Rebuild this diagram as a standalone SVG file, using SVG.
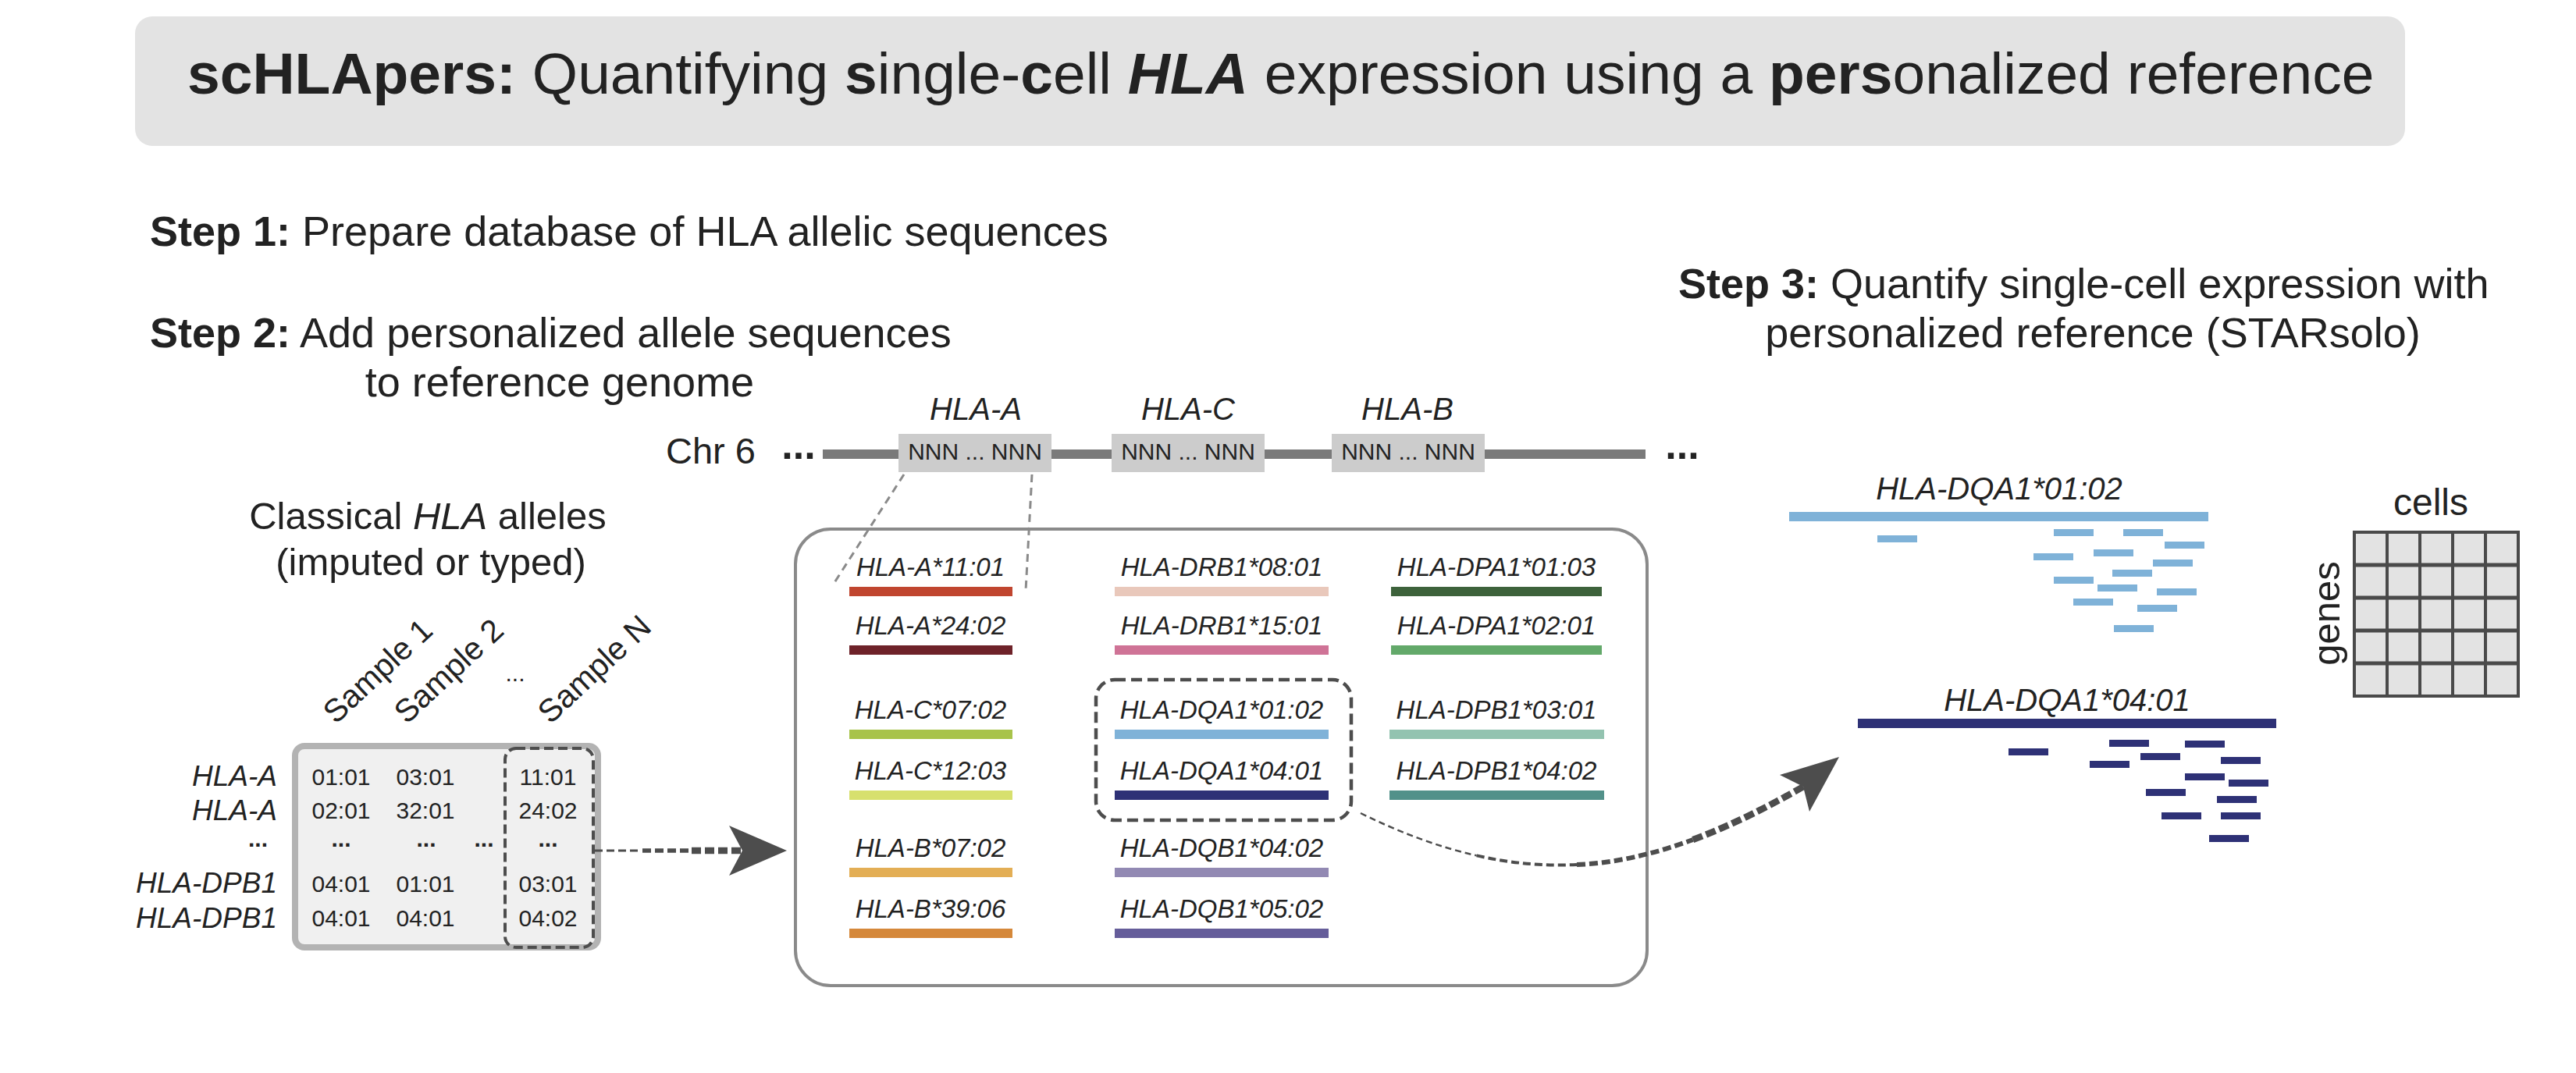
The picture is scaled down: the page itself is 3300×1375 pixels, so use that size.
<svg xmlns="http://www.w3.org/2000/svg" width="3300" height="1375" viewBox="0 0 3300 1375">
<style>
text{font-family:"Liberation Sans",Arial,Helvetica,sans-serif;fill:#222}
.b{font-weight:bold}
.i{font-style:italic}
.step{font-size:54px}
.al{font-size:33px;font-style:italic;text-anchor:middle}
.val{font-size:30px;text-anchor:middle}
.lab{font-size:37px;font-style:italic;text-anchor:end}
.nnn{font-size:30px;text-anchor:middle}
.gene{font-size:40px;font-style:italic;text-anchor:middle}
.smp{font-size:41px}
.dash{fill:none;stroke:#4d4d4d}
.ra{fill:#7fb2d8}
.rb{fill:#2e3176}
</style>
<rect width="3300" height="1375" fill="#fff"/>

<g id="title">
<rect x="173" y="21" width="2908" height="166" rx="22" fill="#e3e3e3"/>
<text x="240" y="120" font-size="75"><tspan class="b">scHLApers:</tspan> Quantifying <tspan class="b">s</tspan>ingle-<tspan class="b">c</tspan>ell <tspan class="b i">HLA</tspan> expression using a <tspan class="b">pers</tspan>onalized reference</text>
</g>

<g id="step1"><text class="step" x="192" y="315"><tspan class="b">Step 1:</tspan> Prepare database of HLA allelic sequences</text></g>
<g id="step2"><text class="step" x="192" y="445"><tspan class="b">Step 2:</tspan> Add personalized allele sequences</text>
<text class="step" x="717" y="508" text-anchor="middle">to reference genome</text></g>
<g id="step3"><text class="step" x="2150" y="382"><tspan class="b">Step 3:</tspan> Quantify single-cell expression with</text>
<text class="step" x="2681" y="445" text-anchor="middle">personalized reference (STARsolo)</text></g>

<g id="alleles-table">
<text x="548" y="678" font-size="49" text-anchor="middle">Classical <tspan class="i">HLA</tspan> alleles</text>
<text x="552" y="737" font-size="49" text-anchor="middle">(imputed or typed)</text>
<text class="smp" x="430" y="929" transform="rotate(-43 430 929)">Sample 1</text>
<text class="smp" x="521" y="929" transform="rotate(-43 521 929)">Sample 2</text>
<text x="660" y="873" font-size="30" text-anchor="middle">...</text>
<text class="smp" x="705" y="929" transform="rotate(-43 705 929)">Sample N</text>
<rect x="378" y="956" width="388" height="258" rx="12" fill="#f0f0f0" stroke="#b3b3b3" stroke-width="8"/>
<rect x="647" y="959" width="113" height="255" rx="14" class="dash" stroke-width="4" stroke-dasharray="12 6" stroke="#505050"/>
<text class="lab" x="355" y="1007">HLA-A</text>
<text class="lab" x="355" y="1051">HLA-A</text>
<text class="b" x="343" y="1085" font-size="30" text-anchor="end">...</text>
<text class="lab" x="355" y="1144">HLA-DPB1</text>
<text class="lab" x="355" y="1189">HLA-DPB1</text>
<text class="val" x="437" y="1006">01:01</text><text class="val" x="545" y="1006">03:01</text><text class="val" x="702" y="1006">11:01</text>
<text class="val" x="437" y="1049">02:01</text><text class="val" x="545" y="1049">32:01</text><text class="val" x="702" y="1049">24:02</text>
<text class="val b" x="437" y="1085">...</text><text class="val b" x="546" y="1085">...</text><text class="val b" x="620" y="1085">...</text><text class="val b" x="702" y="1085">...</text>
<text class="val" x="437" y="1143">04:01</text><text class="val" x="545" y="1143">01:01</text><text class="val" x="702" y="1143">03:01</text>
<text class="val" x="437" y="1187">04:01</text><text class="val" x="545" y="1187">04:01</text><text class="val" x="702" y="1187">04:02</text>
</g>

<g id="chr6">
<text x="853" y="594" font-size="47">Chr 6</text>
<text class="b" x="1023" y="588" font-size="52" text-anchor="middle">...</text>
<rect x="1054" y="576" width="1054" height="12" fill="#7a7a7a"/>
<text class="b" x="2155" y="588" font-size="52" text-anchor="middle">...</text>
<rect x="1151" y="556" width="196" height="49" fill="#cccccc"/>
<rect x="1424" y="556" width="196" height="49" fill="#cccccc"/>
<rect x="1706" y="556" width="196" height="49" fill="#cccccc"/>
<text class="nnn" x="1249" y="589">NNN ... NNN</text>
<text class="nnn" x="1522" y="589">NNN ... NNN</text>
<text class="nnn" x="1804" y="589">NNN ... NNN</text>
<text class="gene" x="1250" y="538" font-size="41">HLA-A</text>
<text class="gene" x="1522" y="538" font-size="41">HLA-C</text>
<text class="gene" x="1803" y="538" font-size="41">HLA-B</text>
</g>

<g id="reference-box">
<rect x="1019" y="678" width="1091" height="585" rx="45" fill="#fff" stroke="#8a8a8a" stroke-width="4"/>
<rect x="1404" y="871" width="327" height="180" rx="24" class="dash" stroke-width="4.5" stroke-dasharray="14 7" stroke="#4d4d4d"/>
<text class="al" x="1192" y="738">HLA-A*11:01</text><rect x="1088" y="752" width="209" height="12" fill="#c0452f"/>
<text class="al" x="1192" y="813">HLA-A*24:02</text><rect x="1088" y="827" width="209" height="12" fill="#6e2229"/>
<text class="al" x="1192" y="921">HLA-C*07:02</text><rect x="1088" y="935" width="209" height="12" fill="#a8c34a"/>
<text class="al" x="1192" y="999">HLA-C*12:03</text><rect x="1088" y="1013" width="209" height="12" fill="#d7e06e"/>
<text class="al" x="1192" y="1098">HLA-B*07:02</text><rect x="1088" y="1112" width="209" height="12" fill="#e3ae55"/>
<text class="al" x="1192" y="1176">HLA-B*39:06</text><rect x="1088" y="1190" width="209" height="12" fill="#d5883a"/>
<text class="al" x="1565" y="738">HLA-DRB1*08:01</text><rect x="1428" y="752" width="274" height="12" fill="#e9c8bb"/>
<text class="al" x="1565" y="813">HLA-DRB1*15:01</text><rect x="1428" y="827" width="274" height="12" fill="#cf7396"/>
<text class="al" x="1565" y="921">HLA-DQA1*01:02</text><rect x="1428" y="935" width="274" height="12" fill="#7fb2d8"/>
<text class="al" x="1565" y="999">HLA-DQA1*04:01</text><rect x="1428" y="1013" width="274" height="12" fill="#2e3176"/>
<text class="al" x="1565" y="1098">HLA-DQB1*04:02</text><rect x="1428" y="1112" width="274" height="12" fill="#9289b3"/>
<text class="al" x="1565" y="1176">HLA-DQB1*05:02</text><rect x="1428" y="1190" width="274" height="12" fill="#655d9a"/>
<text class="al" x="1917" y="738">HLA-DPA1*01:03</text><rect x="1782" y="752" width="270" height="12" fill="#3d623b"/>
<text class="al" x="1917" y="813">HLA-DPA1*02:01</text><rect x="1782" y="827" width="270" height="12" fill="#63a96a"/>
<text class="al" x="1917" y="921">HLA-DPB1*03:01</text><rect x="1780" y="935" width="275" height="12" fill="#93c3b0"/>
<text class="al" x="1917" y="999">HLA-DPB1*04:02</text><rect x="1780" y="1013" width="275" height="12" fill="#52918a"/>
</g>

<g id="quantification">
<text class="gene" x="2561" y="640">HLA-DQA1*01:02</text>
<rect x="2292" y="656" width="537" height="12" fill="#7fb2d8"/>
<rect class="ra" x="2405" y="686" width="51" height="9"/><rect class="ra" x="2631" y="678" width="51" height="9"/><rect class="ra" x="2720" y="678" width="51" height="9"/>
<rect class="ra" x="2773" y="694" width="51" height="9"/><rect class="ra" x="2605" y="709" width="51" height="9"/><rect class="ra" x="2682" y="704" width="51" height="9"/>
<rect class="ra" x="2758" y="717" width="51" height="9"/><rect class="ra" x="2706" y="730" width="51" height="9"/><rect class="ra" x="2631" y="739" width="51" height="9"/>
<rect class="ra" x="2687" y="749" width="51" height="9"/><rect class="ra" x="2763" y="754" width="51" height="9"/><rect class="ra" x="2656" y="767" width="51" height="9"/>
<rect class="ra" x="2738" y="775" width="51" height="9"/><rect class="ra" x="2708" y="801" width="51" height="9"/>
<text class="gene" x="2648" y="911">HLA-DQA1*04:01</text>
<rect x="2380" y="921" width="536" height="12" fill="#2e3176"/>
<rect class="rb" x="2573" y="959" width="51" height="9"/><rect class="rb" x="2702" y="948" width="51" height="9"/><rect class="rb" x="2799" y="949" width="51" height="9"/>
<rect class="rb" x="2742" y="965" width="51" height="9"/><rect class="rb" x="2677" y="975" width="51" height="9"/><rect class="rb" x="2845" y="970" width="51" height="9"/>
<rect class="rb" x="2799" y="991" width="51" height="9"/><rect class="rb" x="2855" y="999" width="51" height="9"/><rect class="rb" x="2749" y="1011" width="51" height="9"/>
<rect class="rb" x="2840" y="1020" width="51" height="9"/><rect class="rb" x="2769" y="1041" width="51" height="9"/><rect class="rb" x="2845" y="1041" width="51" height="9"/>
<rect class="rb" x="2830" y="1070" width="51" height="9"/>
</g>

<g id="matrix">
<text x="3114" y="660" font-size="48" text-anchor="middle">cells</text>
<text x="2997" y="786" font-size="49" text-anchor="middle" transform="rotate(-90 2997 786)">genes</text>
<rect x="3016" y="682" width="210" height="210" fill="#e3e3e3" stroke="#4a4a4a" stroke-width="4"/>
<path d="M3058,682V892M3100,682V892M3142,682V892M3184,682V892" stroke="#4a4a4a" stroke-width="4"/>
<path d="M3016,724H3226M3016,766H3226M3016,808H3226M3016,850H3226" stroke="#4a4a4a" stroke-width="5"/>
</g>

<g id="connectors">
<path d="M1158,608L1068,748M1322,608L1314,757" fill="none" stroke="#8a8a8a" stroke-width="3" stroke-dasharray="10 7"/>
<path class="dash" d="M762,1090H820" stroke-width="3" stroke-dasharray="10 5"/>
<path class="dash" d="M823,1090H883" stroke-width="5.5" stroke-dasharray="11 5"/>
<path class="dash" d="M886,1090H952" stroke-width="8.5" stroke-dasharray="12 5"/>
<polygon points="1008,1090 934,1058 951,1090 934,1122" fill="#4d4d4d"/>
<path class="dash" d="M1743,1042C1796.5,1068.5 1845.75,1086 1891.6,1096.4" stroke-width="2.5" stroke-dasharray="8 5"/>
<path class="dash" d="M1891.6,1096.4C1937.5,1106.75 1980,1110 2020,1108" stroke-width="4" stroke-dasharray="10 5"/>
<path class="dash" d="M2020,1108C2070,1106 2120,1094 2168.75,1076" stroke-width="6" stroke-dasharray="11 5"/>
<path class="dash" d="M2168.75,1076C2217.5,1058 2265,1034 2312,1007" stroke-width="8.5" stroke-dasharray="13 5"/>
<polygon points="2356,970 2280,993 2310,1008 2318,1040" fill="#4d4d4d"/>
</g>
</svg>
